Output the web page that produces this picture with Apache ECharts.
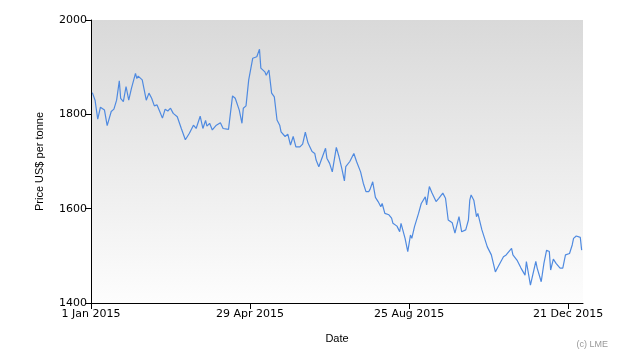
<!DOCTYPE html>
<html>
<head>
<meta charset="utf-8">
<script src="https://cdn.jsdelivr.net/npm/echarts@6/dist/echarts.min.js"></script>
<style>html,body{margin:0;padding:0;background:#fff}#c{width:630px;height:360px}</style>
</head>
<body>
<div id="c"></div>
<script>
// Day offsets from 1 Jan 2015
var dayOffsets = [1,3,5,7,10,12,15,17,19,21,22,24,26,28,30,33,34,35,38,41,43,45,47,49,51,53,55,57,59,61,64,67,70,73,76,78,81,83,85,86,88,90,93,96,98,102,103,105,107,108,110,112,113,115,117,120,123,125,126,129,130,132,134,136,138,140,141,144,146,148,150,152,155,157,159,161,164,166,167,169,174,175,177,179,182,184,186,187,188,189,192,193,195,197,200,202,204,206,207,209,211,213,215,216,218,221,223,224,227,229,230,233,235,237,238,240,243,245,248,249,251,253,256,258,261,263,265,268,270,273,275,278,280,281,282,284,286,287,290,294,297,300,302,306,308,312,313,316,319,322,323,326,327,330,331,334,336,338,340,341,343,345,348,350,352,355,357,358,360,363,364];
var prices = [1846,1830,1790,1815,1809,1776,1806,1811,1830,1871,1834,1827,1859,1830,1855,1887,1876,1881,1873,1830,1845,1834,1818,1820,1806,1792,1811,1807,1813,1802,1795,1770,1746,1760,1777,1770,1796,1770,1787,1775,1781,1767,1777,1782,1770,1768,1765,1839,1834,1834,1809,1781,1813,1818,1873,1919,1922,1938,1898,1890,1883,1894,1845,1837,1788,1777,1763,1753,1758,1735,1753,1731,1731,1737,1762,1739,1721,1717,1703,1689,1728,1707,1696,1678,1730,1710,1686,1682,1659,1689,1700,1703,1717,1700,1678,1654,1636,1636,1641,1657,1624,1615,1604,1611,1590,1587,1580,1569,1563,1551,1569,1537,1509,1544,1537,1562,1590,1611,1625,1608,1647,1633,1615,1622,1633,1622,1576,1570,1548,1583,1551,1555,1576,1618,1629,1618,1583,1590,1555,1519,1502,1466,1477,1498,1502,1516,1502,1491,1474,1459,1488,1438,1435,1488,1474,1445,1484,1512,1509,1470,1493,1484,1474,1474,1502,1505,1523,1537,1542,1539,1512];
var xTickDays = [0,118,236,354];
var xTickLabels = ['1 Jan 2015','29 Apr 2015','25 Aug 2015','21 Dec 2015'];
var yTicks = [1400,1600,1800,2000];
var yTickLabels = ['1400','1600','1800','2000'];

var data = dayOffsets.map(function(d,i){return [d, prices[i]];});
var chart = echarts.init(document.getElementById('c'));
var font = 'DejaVu Sans';
chart.setOption({
  animation: false,
  backgroundColor: '#ffffff',
  grid: {
    left: 91, right: 47, top: 20, bottom: 57,
    show: true, borderWidth: 0,
    backgroundColor: {type:'linear', x:0, y:0, x2:0, y2:1, colorStops:[{offset:0,color:'#d9d9d9'},{offset:1,color:'#fdfdfd'}]}
  },
  xAxis: {
    type: 'value', min: 0, max: 365,
    name: 'Date', nameLocation: 'middle', nameGap: 30,
    nameTextStyle: {fontFamily: 'Liberation Sans', fontSize: 11, color: '#000'},
    axisLine: {show: true, lineStyle: {color: '#000', width: 1}},
    axisTick: {show: true, length: 6, lineStyle: {color:'#000'}, customValues: xTickDays},
    axisLabel: {show: true, fontFamily: font, fontSize: 11, color: '#000', margin: 6,
      customValues: xTickDays,
      formatter: function(v){var i = xTickDays.indexOf(v); return i>=0 ? xTickLabels[i] : '';}},
    splitLine: {show: false}
  },
  yAxis: {
    type: 'value', min: 1400, max: 2000, interval: 200,
    name: 'Price US$ per tonne', nameLocation: 'middle', nameGap: 46, nameRotate: 90,
    nameTextStyle: {fontFamily: 'Liberation Sans', fontSize: 11, color: '#000'},
    axisLine: {show: true, lineStyle: {color: '#000', width: 1}},
    axisTick: {show: true, length: 6, lineStyle: {color:'#000'}, customValues: yTicks},
    axisLabel: {show: true, fontFamily: font, fontSize: 11, color: '#000', margin: 4, customValues: yTicks,
      formatter: function(v){var i = yTicks.indexOf(v); return i>=0 ? yTickLabels[i] : '';}},
    splitLine: {show: false}
  },
  graphic: [{type:'text', right: 22, top: 340, style:{text:'(c) LME', fontFamily:'Liberation Sans', fontSize: 9, fill:'#999'}}],
  series: [{
    type: 'line', data: data, symbol: 'none', smooth: false,
    lineStyle: {color: '#4f8ae0', width: 1.2}
  }]
});
</script>
</body>
</html>
